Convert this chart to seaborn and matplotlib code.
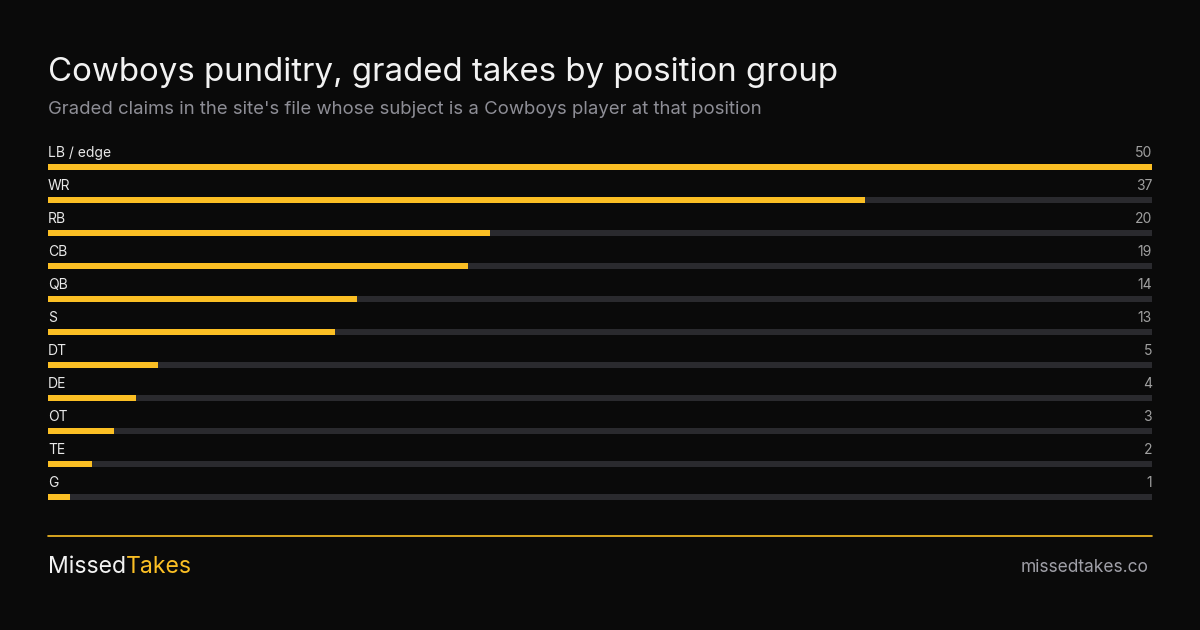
import matplotlib
matplotlib.use("Agg")
import matplotlib.pyplot as plt
import seaborn as sns
import pandas as pd

positions = ["LB / edge", "WR", "RB", "CB", "QB", "S", "DT", "DE", "OT", "TE", "G"]
counts = [50, 37, 20, 19, 14, 13, 5, 4, 3, 2, 1]
max_value = 50

BG = "#0a0a0a"
YEL = "#fbbf24"
TRACK = "#2a2a2e"

sns.set_theme(style="white")
plt.rcParams["font.family"] = ["Inter", "DejaVu Sans"]

df = pd.DataFrame({"pos": positions, "n": counts, "track": [max_value] * len(positions)})

fig = plt.figure(figsize=(12, 6.3), dpi=100, facecolor=BG)
W, H = 1200, 630
ylo, yhi = -0.8, 10.5
top_px = 167 + ylo * 33
bot_px = 167 + yhi * 33
ax = fig.add_axes([48 / W, 1 - bot_px / H, 1104 / W, (bot_px - top_px) / H])
ax.set_facecolor(BG)

sns.barplot(data=df, y="pos", x="track", color=TRACK, width=0.18, ax=ax, orient="h", saturation=1)
sns.barplot(data=df, y="pos", x="n", color=YEL, width=0.18, ax=ax, orient="h", saturation=1)
for p in ax.patches:
    p.set_linewidth(0)

ax.set_xlim(0, max_value)
ax.set_ylim(yhi, ylo)
ax.axis("off")

for i, (lab, v) in enumerate(zip(positions, counts)):
    ax.text(0, i - 0.42, lab, color="#e8e8e8", fontsize=10, va="center", ha="left")
    ax.text(max_value, i - 0.42, str(v), color="#a0a0a0", fontsize=10, va="center", ha="right")

fig.text(48 / W, 1 - 72 / H, "Cowboys punditry, graded takes by position group",
         color="#f2f2f2", fontsize=23.8, va="center", ha="left")
fig.text(48 / W, 1 - 110 / H,
         "Graded claims in the site's file whose subject is a Cowboys player at that position",
         color="#8e8e96", fontsize=13.35, va="center", ha="left")

fig.add_artist(plt.Line2D([48 / W, 1152 / W], [1 - 536 / H] * 2, color=YEL, lw=1.2))
t1 = fig.text(48 / W, 1 - 567 / H, "Missed", color="#f2f2f2", fontsize=16.6, va="center", ha="left")
fig.canvas.draw()
bb = t1.get_window_extent()
fig.text(bb.x1 / W, 1 - 567 / H, "Takes", color=YEL, fontsize=16.6, va="center", ha="left")
fig.text(1148 / W, 1 - 567 / H, "missedtakes.co", color="#a0a0a8", fontsize=12.5, va="center", ha="right")

fig.savefig("out.png", dpi=100, facecolor=BG)
